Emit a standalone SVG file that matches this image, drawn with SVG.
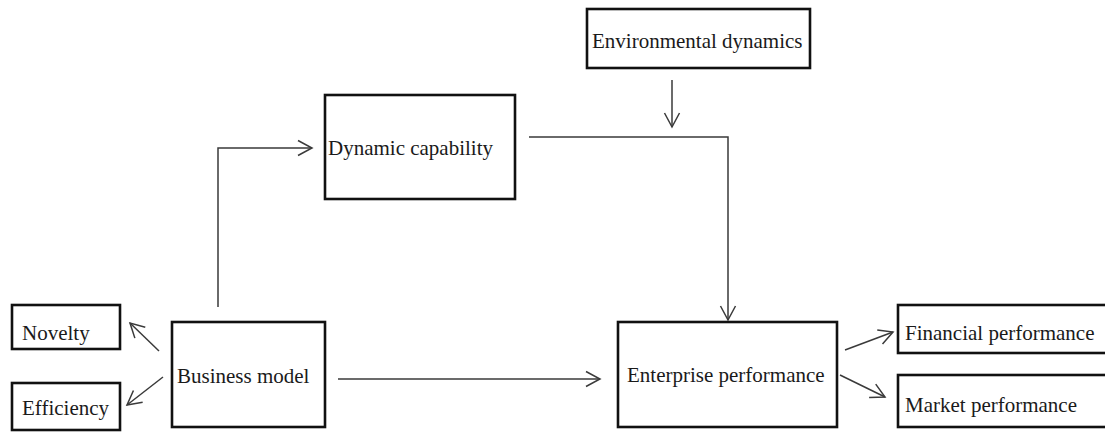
<svg xmlns="http://www.w3.org/2000/svg" width="1105" height="432" viewBox="0 0 1105 432">
  <style>
    .box { fill: #ffffff; stroke: #111111; stroke-width: 2.6; }
    .label { font-family: "Liberation Serif", "Times New Roman", serif; font-size: 21px; fill: #1a1a1a; }
    .link { fill: none; stroke: #3a3a3a; stroke-width: 1.5; }
  </style>
  <defs>
    <marker id="arrow" viewBox="0 0 18 18" refX="15" refY="9" markerWidth="18" markerHeight="18" markerUnits="userSpaceOnUse" orient="auto">
      <polyline points="1,1.5 15,9 1,16.5" fill="none" stroke="#3a3a3a" stroke-width="1.5"/>
    </marker>
  </defs>

  <rect width="1105" height="432" fill="#ffffff"/>

  <g id="connectors">
    <!-- business model up to dynamic capability -->
    <polyline class="link" points="218,307 218,148 312,148" marker-end="url(#arrow)"/>
    <!-- dynamic capability to enterprise performance -->
    <polyline class="link" points="529,137 728,137 728,320" marker-end="url(#arrow)"/>
    <!-- environmental dynamics moderating arrow -->
    <line class="link" x1="672" y1="80" x2="672" y2="127" marker-end="url(#arrow)"/>
    <!-- business model to enterprise performance -->
    <line class="link" x1="338" y1="379" x2="600" y2="379" marker-end="url(#arrow)"/>
    <!-- business model dimensions -->
    <line class="link" x1="159" y1="351" x2="130" y2="323" marker-end="url(#arrow)"/>
    <line class="link" x1="163" y1="377" x2="127" y2="405" marker-end="url(#arrow)"/>
    <!-- performance dimensions -->
    <line class="link" x1="845" y1="350" x2="893" y2="332" marker-end="url(#arrow)"/>
    <line class="link" x1="840" y1="375" x2="885" y2="397" marker-end="url(#arrow)"/>
  </g>

  <g id="environmental-dynamics">
    <rect class="box" x="587" y="9" width="223" height="59"/>
    <text class="label" x="592" y="48">Environmental dynamics</text>
  </g>

  <g id="dynamic-capability">
    <rect class="box" x="325" y="95" width="190" height="104"/>
    <text class="label" x="328" y="155">Dynamic capability</text>
  </g>

  <g id="novelty">
    <rect class="box" x="12" y="305" width="108" height="44"/>
    <text class="label" x="22" y="340">Novelty</text>
  </g>

  <g id="efficiency">
    <rect class="box" x="12" y="383" width="108" height="47"/>
    <text class="label" x="22" y="415">Efficiency</text>
  </g>

  <g id="business-model">
    <rect class="box" x="172" y="322" width="153" height="105"/>
    <text class="label" x="177" y="383">Business model</text>
  </g>

  <g id="enterprise-performance">
    <rect class="box" x="618" y="322" width="219" height="105"/>
    <text class="label" x="627" y="382">Enterprise performance</text>
  </g>

  <g id="financial-performance">
    <rect class="box" x="898" y="305" width="215" height="48"/>
    <text class="label" x="905" y="340">Financial performance</text>
  </g>

  <g id="market-performance">
    <rect class="box" x="898" y="375" width="215" height="52"/>
    <text class="label" x="905" y="412">Market performance</text>
  </g>
</svg>
